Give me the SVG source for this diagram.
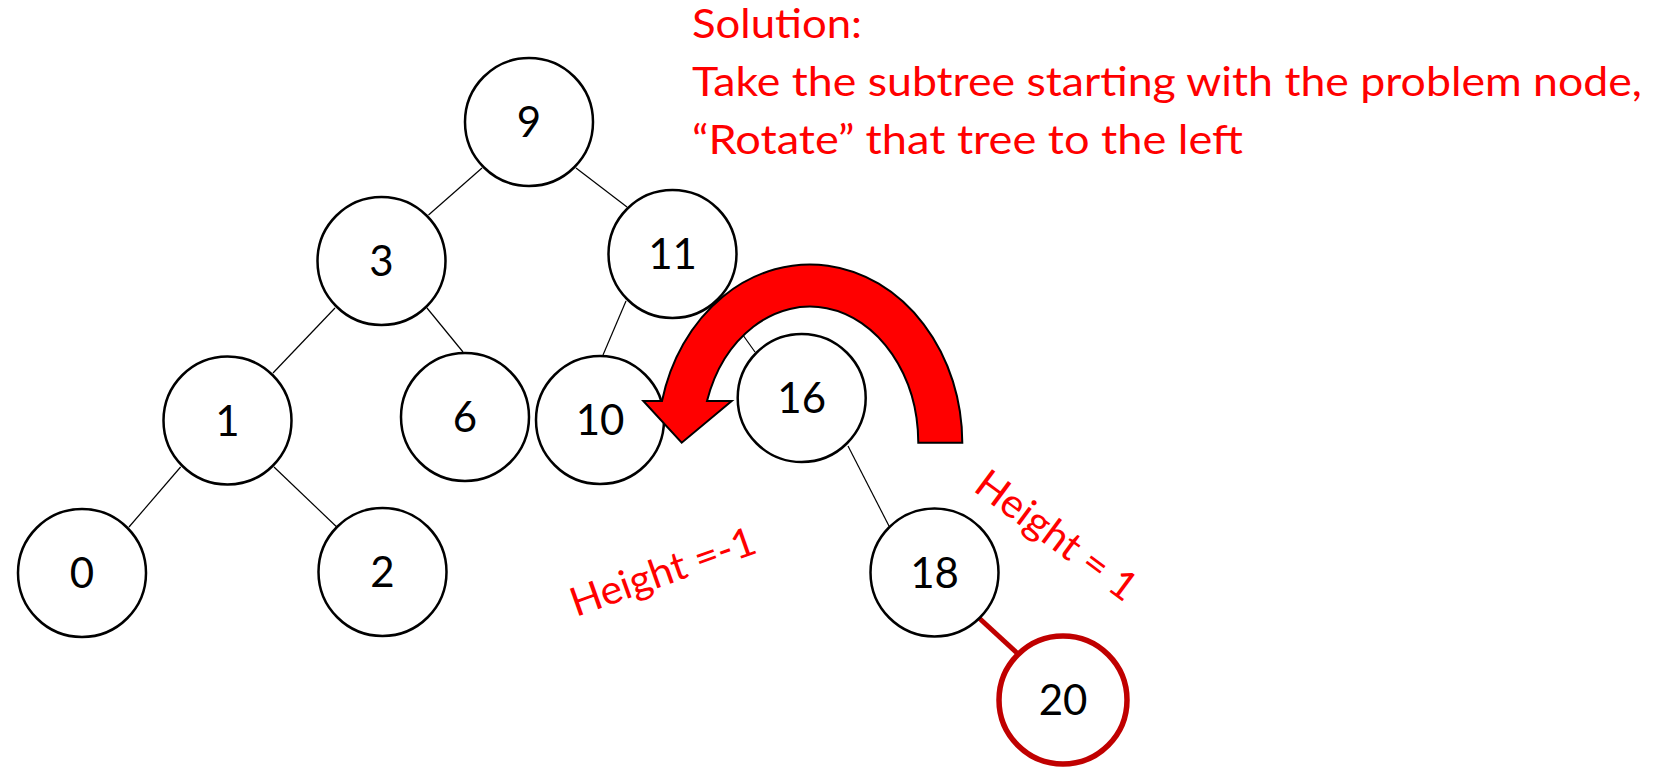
<svg xmlns="http://www.w3.org/2000/svg" width="1667" height="768" viewBox="0 0 1667 768">
<style>
.node circle{fill:#fff;stroke:#000;stroke-width:2.5}
.node text{font-family:Lato,"Liberation Sans",sans-serif;font-size:42px;fill:#000;text-anchor:middle}
.edge{stroke:#000;stroke-width:1.2}
.red{font-family:Lato,"Liberation Sans",sans-serif;font-size:40px;fill:#ff0000}
</style>
<rect width="1667" height="768" fill="#fff"/>
<g id="connectors">
<line class="edge" x1="482" y1="168" x2="428.5" y2="215"/>
<line class="edge" x1="576" y1="168" x2="627" y2="207"/>
<line class="edge" x1="335" y1="308" x2="273" y2="373"/>
<line class="edge" x1="427" y1="308" x2="463" y2="352"/>
<line class="edge" x1="626" y1="301" x2="603" y2="355"/>
<line class="edge" x1="718" y1="300" x2="755" y2="352"/>
<line class="edge" x1="180.6" y1="467" x2="129" y2="527"/>
<line class="edge" x1="274" y1="467" x2="336.8" y2="527"/>
<line class="edge" x1="848" y1="446" x2="889" y2="526"/>
<line x1="979" y1="618" x2="1017" y2="653" stroke="#C00000" stroke-width="5"/>
</g>
<g id="n9" class="node"><circle cx="529" cy="122" r="64"/><text x="529" y="137">9</text></g>
<g id="n3" class="node"><circle cx="381.5" cy="261" r="64"/><text x="381.5" y="276">3</text></g>
<g id="n11" class="node"><circle cx="672.5" cy="254" r="64"/><text x="672.5" y="269">11</text></g>
<g id="n1" class="node"><circle cx="227.5" cy="420.5" r="64"/><text x="227.5" y="435.5">1</text></g>
<g id="n6" class="node"><circle cx="465" cy="417" r="64"/><text x="465" y="432">6</text></g>
<g id="n10" class="node"><circle cx="600" cy="420" r="64"/><text x="600" y="435">10</text></g>
<g id="n16" class="node"><circle cx="801.7" cy="398" r="64"/><text x="801.7" y="413">16</text></g>
<g id="n0" class="node"><circle cx="82" cy="573" r="64"/><text x="82" y="588">0</text></g>
<g id="n2" class="node"><circle cx="382.5" cy="572" r="64"/><text x="382.5" y="587">2</text></g>
<g id="n18" class="node"><circle cx="934.5" cy="572.5" r="64"/><text x="934.5" y="587.5">18</text></g>
<g id="n20" class="node"><circle cx="1063" cy="700" r="64" style="stroke:#C00000;stroke-width:5.5"/><text x="1063" y="715">20</text></g>
<g id="rotate-arrow">
<path d="M962.3 442.7 A152.3 178.7 0 0 0 662 401 L643.3 401 L681.7 442.7 L731.7 401 L707 401 A108.3 136.7 0 0 1 918.3 442.7 Z" fill="#ff0000" stroke="#000" stroke-width="2"/>
</g>
<g id="labels">
<text class="red" x="692" y="38" textLength="170" lengthAdjust="spacingAndGlyphs">Solution:</text>
<text class="red" x="692" y="96" textLength="950" lengthAdjust="spacingAndGlyphs">Take the subtree starting with the problem node,</text>
<text class="red" x="692" y="154" textLength="551" lengthAdjust="spacingAndGlyphs">“Rotate” that tree to the left</text>
<text class="red" x="0" y="0" transform="translate(576,617) rotate(-19.5)" textLength="194" lengthAdjust="spacingAndGlyphs">Height =-1</text>
<text class="red" x="0" y="0" transform="translate(972,490) rotate(36.5)" textLength="190" lengthAdjust="spacingAndGlyphs">Height = 1</text>
</g>
</svg>
